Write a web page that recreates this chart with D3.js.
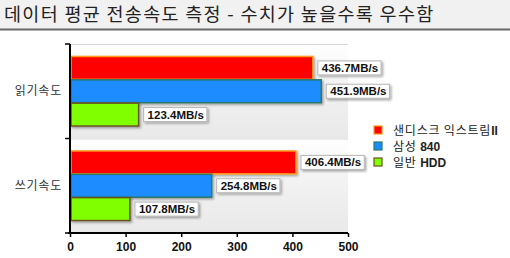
<!DOCTYPE html>
<html><head><meta charset="utf-8">
<script src="https://cdn.jsdelivr.net/npm/d3@7"></script>
<style>
html,body{margin:0;padding:0;background:#fff;}
svg{display:block;}
</style></head>
<body>
<script>
const title = "데이터 평균 전송속도 측정 - 수치가 높을수록 우수함";
const categories = ["읽기속도", "쓰기속도"];
const seriesNames = ["샌디스크 익스트림II", "삼성 840", "일반 HDD"];
const sandisk = [436.7, 406.4];
const samsung = [451.9, 254.8];
const hdd = [123.4, 107.8];
const tickValues = [0, 100, 200, 300, 400, 500];
const seriesValues = [sandisk, samsung, hdd];
const fills = ["#ff0000", "#1a8cff", "#80ff00"];
const strokes = ["#ff9a1a", "#2a7a6a", "#6b5320"];

const W = 510, H = 258;
const svg = d3.select("body").append("svg").attr("width", W).attr("height", H);
const defs = svg.append("defs");
const grad = defs.append("linearGradient").attr("id", "bandGrad").attr("x1", 0).attr("y1", 0).attr("x2", 0).attr("y2", 1);
grad.append("stop").attr("offset", "0%").attr("stop-color", "#ffffff");
grad.append("stop").attr("offset", "55%").attr("stop-color", "#f0f0f0");
grad.append("stop").attr("offset", "100%").attr("stop-color", "#e9e9e9");
const sh = defs.append("filter").attr("id", "shadow").attr("x", "-10%").attr("y", "-20%").attr("width", "130%").attr("height", "160%");
sh.append("feDropShadow").attr("dx", 1.5).attr("dy", 1.5).attr("stdDeviation", 0.8).attr("flood-color", "#000").attr("flood-opacity", 0.35);

// Title bar
svg.append("rect").attr("x", 0).attr("y", 0).attr("width", W).attr("height", 29).attr("fill", "#f1f1f1");
svg.append("rect").attr("x", 0).attr("y", 28.5).attr("width", W).attr("height", 2).attr("fill", "#6a6a6a");
svg.append("text").attr("x", 4).attr("y", 20.5).attr("font-family", "'Noto Sans CJK KR'").attr("font-size", 18.5)
  .attr("letter-spacing", 1.3).attr("fill", "#222").text(title);

const x = d3.scaleLinear().domain([0, 500]).range([70, 348]);
const y = d3.scaleBand().domain(categories).range([44, 233]).padding(0);
const yInner = d3.scaleBand().domain(seriesNames).range([12, y.bandwidth() - 12]).padding(0.02);

// band backgrounds
const bands = svg.append("g");
categories.forEach(c => {
  bands.append("rect").attr("x", x(0)).attr("y", y(c)).attr("width", x(500) - x(0)).attr("height", y.bandwidth()).attr("fill", "url(#bandGrad)");
  bands.append("line").attr("x1", x(0)).attr("x2", x(500)).attr("y1", y(c) + 0.5).attr("y2", y(c) + 0.5).attr("stroke", "#d8d8d8");
});

// bars
const barG = svg.append("g");
categories.forEach((c, ci) => {
  seriesNames.forEach((s, si) => {
    const v = seriesValues[si][ci];
    const by = y(c) + yInner(s);
    barG.append("rect").attr("x", x(0) + 1).attr("y", by).attr("width", x(v) - x(0) - 1).attr("height", yInner.bandwidth())
      .attr("fill", fills[si]).attr("stroke", strokes[si]).attr("stroke-width", 1.5).attr("filter", "url(#shadow)");
  });
});

// labels
const labG = svg.append("g");
categories.forEach((c, ci) => {
  seriesNames.forEach((s, si) => {
    const v = seriesValues[si][ci];
    const cy = y(c) + yInner(s) + yInner.bandwidth() / 2;
    const g = labG.append("g");
    const t = g.append("text").attr("x", x(v) + 9).attr("y", cy + 4).attr("font-family", "'Liberation Sans', Arial").attr("font-weight", "bold").attr("font-size", 11.5).attr("fill", "#111").text(v.toFixed(1) + "MB/s");
    const bb = t.node().getBBox();
    g.insert("rect", "text").attr("x", bb.x - 4).attr("y", cy - 7).attr("width", bb.width + 7).attr("height", 14)
      .attr("fill", "#fff").attr("stroke", "#b5b5b5").attr("stroke-width", 1).attr("filter", "url(#shadow)");
  });
});

// axes
const xAxis = d3.axisBottom(x).tickValues(tickValues).tickSize(4).tickSizeOuter(0);
const xg = svg.append("g").attr("transform", "translate(0,233)").call(xAxis);
xg.select(".domain").attr("stroke", "#000").attr("stroke-width", 2).attr("d", `M${x(0) - 2},0H${x(500)}`);
xg.selectAll(".tick line").attr("stroke", "#000").attr("stroke-width", 1.5);
xg.selectAll(".tick text").attr("font-family", "'Liberation Sans', Arial").attr("font-weight", "bold").attr("font-size", 12).attr("fill", "#111").attr("dy", "0.9em");

const yg = svg.append("g");
yg.append("line").attr("x1", x(0)).attr("x2", x(0)).attr("y1", 44).attr("y2", 234).attr("stroke", "#000").attr("stroke-width", 2);
const yTicks = [44, y(categories[1]), 233];
yTicks.forEach(t => yg.append("line").attr("x1", x(0) - 5).attr("x2", x(0)).attr("y1", t).attr("y2", t).attr("stroke", "#000").attr("stroke-width", 1.5));
categories.forEach(c => {
  yg.append("text").attr("x", 62).attr("y", y(c) + y.bandwidth() / 2 + 4).attr("text-anchor", "end")
    .attr("font-family", "'Noto Sans CJK KR'").attr("font-size", 12).attr("letter-spacing", 0.8).attr("fill", "#333").text(c);
});

// legend
const leg = svg.append("g");
const legParts = [["샌디스크 익스트림", "II"], ["삼성 ", "840"], ["일반 ", "HDD"]];
seriesNames.forEach((s, i) => {
  const ly = 130 + i * 16;
  leg.append("rect").attr("x", 374).attr("y", ly - 4).attr("width", 8).attr("height", 8).attr("fill", fills[i]).attr("stroke", strokes[i]).attr("stroke-width", 1.2);
  const t = leg.append("text").attr("x", 393).attr("y", ly + 4.5).attr("font-size", 12).attr("fill", "#222");
  t.append("tspan").attr("font-family", "'Noto Sans CJK KR'").attr("letter-spacing", 0.8).text(legParts[i][0]);
  t.append("tspan").attr("font-family", "'Liberation Sans', Arial").attr("font-weight", "bold").text(legParts[i][1]);
});
</script>
</body></html>
